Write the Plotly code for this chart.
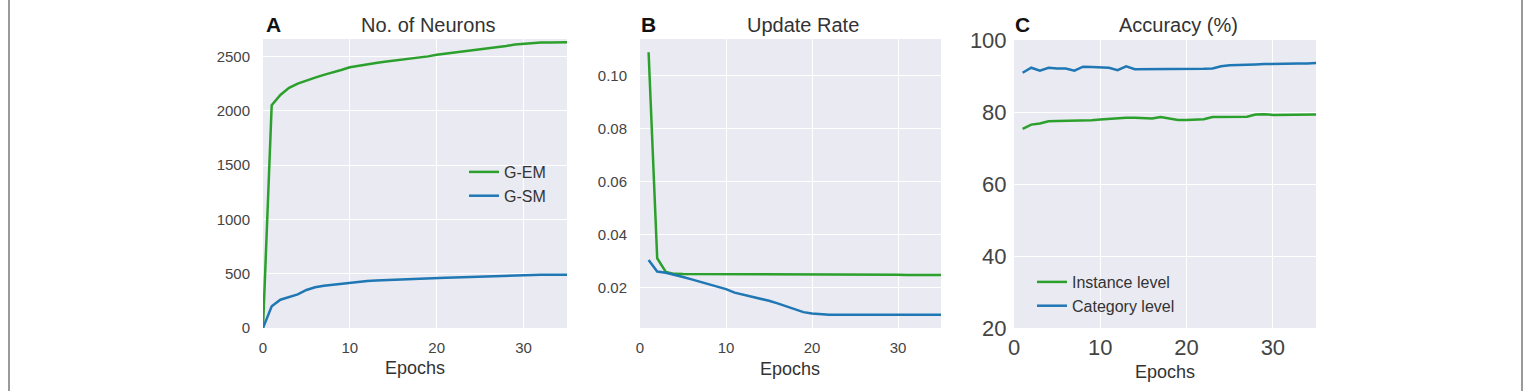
import plotly.graph_objects as go

W, H = 1529, 391

# ---------------- data ----------------
epochs_a = list(range(0, 36))
gem_neurons = [0, 2050, 2145, 2210, 2250, 2280, 2305, 2330, 2350, 2375, 2400, 2415, 2430, 2440,
               2450, 2460, 2470, 2480, 2485, 2500, 2515, 2525, 2535, 2545, 2555, 2560, 2570,
               2585, 2595, 2610, 2615, 2625, 2628, 2628, 2630, 2630]
gsm_neurons = [0, 200, 260, 285, 310, 350, 375, 388, 398, 408, 418, 425, 432, 437, 441, 444, 447,
               450, 453, 456, 459, 462, 465, 468, 471, 474, 477, 480, 484, 487, 490, 490, 490,
               490, 490, 490]

epochs_bc = list(range(1, 36))
gem_rate = [0.109, 0.031, 0.0258, 0.0251, 0.0250, 0.0250, 0.0249, 0.0249, 0.0249, 0.0248,
            0.0248, 0.0248, 0.0248, 0.0248, 0.0248, 0.0248, 0.0248, 0.0248, 0.0248, 0.0248,
            0.0248, 0.0248, 0.0248, 0.0248, 0.0248, 0.0248, 0.0248, 0.0248, 0.0248, 0.0248,
            0.0247, 0.0247, 0.0247, 0.0247, 0.0247]
gsm_rate = [0.0303, 0.0260, 0.0255, 0.0248, 0.0239, 0.0230, 0.0221, 0.0212, 0.0203, 0.0193,
            0.0180, 0.0172, 0.0165, 0.0158, 0.0149, 0.0139, 0.0128, 0.0117, 0.0106, 0.0101,
            0.0098, 0.0096, 0.0096, 0.0096, 0.0096, 0.0096, 0.0096, 0.0096, 0.0096, 0.0096,
            0.0096, 0.0096, 0.0096, 0.0096, 0.0096]

instance_acc = [75.3, 76.5, 76.8, 77.4, 77.5, 77.5, 77.5, 77.7, 77.7, 77.9, 78.1, 78.3, 78.4,
                78.4, 78.3, 78.2, 78.6, 78.2, 77.8, 77.8, 77.9, 78.0, 78.6, 78.6, 78.5, 78.6,
                78.7, 79.3, 79.4, 79.2, 79.2, 79.2, 79.2, 79.2, 79.3]
category_acc = [90.9, 92.3, 91.5, 92.3, 92.1, 92.1, 91.5, 92.6, 92.5, 92.5, 92.3, 91.6, 92.7,
                91.9, 91.9, 92.0, 92.0, 92.0, 91.9, 91.8, 91.9, 92.0, 92.1, 92.7, 93.0, 93.0,
                93.0, 93.2, 93.3, 93.4, 93.4, 93.4, 93.5, 93.5, 93.6]

panel_letters = ["A", "B", "C"]
panel_titles = ["No. of Neurons", "Update Rate", "Accuracy (%)"]
x_title = "Epochs"

GREEN = "#2ca02c"
BLUE = "#1f77b4"
FONT = "Liberation Sans, Arial, Helvetica, sans-serif"
BG = "#EAEAF2"
TICKC = "#444444"
LW = 2.5


def px(x):
    return x / W


def py(y):
    return 1 - y / H


fig = go.Figure()

# Panel A
fig.add_trace(go.Scatter(x=epochs_a, y=gem_neurons, mode="lines", name="G-EM",
                         line=dict(color=GREEN, width=LW), xaxis="x", yaxis="y", legend="legend"))
fig.add_trace(go.Scatter(x=epochs_a, y=gsm_neurons, mode="lines", name="G-SM",
                         line=dict(color=BLUE, width=LW), xaxis="x", yaxis="y", legend="legend"))
# Panel B
fig.add_trace(go.Scatter(x=epochs_bc, y=gem_rate, mode="lines", name="G-EM", showlegend=False,
                         line=dict(color=GREEN, width=LW), xaxis="x2", yaxis="y2"))
fig.add_trace(go.Scatter(x=epochs_bc, y=gsm_rate, mode="lines", name="G-SM", showlegend=False,
                         line=dict(color=BLUE, width=LW), xaxis="x2", yaxis="y2"))
# Panel C
fig.add_trace(go.Scatter(x=epochs_bc, y=instance_acc, mode="lines", name="Instance level",
                         line=dict(color=GREEN, width=LW), xaxis="x3", yaxis="y3", legend="legend2"))
fig.add_trace(go.Scatter(x=epochs_bc, y=category_acc, mode="lines", name="Category level",
                         line=dict(color=BLUE, width=LW), xaxis="x3", yaxis="y3", legend="legend2"))

domains_x = [(263, 567), (640, 941), (1014, 1316)]
dom_y = [py(328), py(39)]
dom_y_c = [py(328), py(40)]

grid = dict(showgrid=True, gridcolor="white", gridwidth=1.3, zeroline=False,
            showline=False, ticks="outside", tickcolor="rgba(0,0,0,0)", automargin=False)
common_x = dict(tickvals=[0, 10, 20, 30], range=[0, 35], **grid)

small = dict(family=FONT, size=15, color=TICKC)
large = dict(family=FONT, size=22, color=TICKC)

fig.update_layout(
    width=W, height=H,
    margin=dict(l=0, r=0, t=0, b=0, autoexpand=False),
    paper_bgcolor="white", plot_bgcolor=BG,
    font=dict(family=FONT),
    xaxis=dict(domain=[px(domains_x[0][0]), px(domains_x[0][1])], anchor="y",
               tickfont=small, ticklen=6, **common_x),
    yaxis=dict(domain=dom_y, anchor="x", range=[0, 2660], ticklen=9,
               tickvals=[0, 500, 1000, 1500, 2000, 2500], tickfont=small, **grid),
    xaxis2=dict(domain=[px(domains_x[1][0]), px(domains_x[1][1])], anchor="y2",
                tickfont=small, ticklen=6, **common_x),
    yaxis2=dict(domain=dom_y, anchor="x2", range=[0.0046, 0.114], ticklen=9,
                tickvals=[0.02, 0.04, 0.06, 0.08, 0.10], tickformat=".2f",
                tickfont=small, **grid),
    xaxis3=dict(domain=[px(domains_x[2][0]), px(domains_x[2][1])], anchor="y3",
                tickfont=large, ticklen=0, **common_x),
    yaxis3=dict(domain=dom_y_c, anchor="x3", range=[20, 100], ticklen=2,
                tickvals=[20, 40, 60, 80, 100], tickfont=large, **grid),
    legend=dict(x=px(464), y=py(155), xanchor="left", yanchor="top",
                bgcolor="rgba(0,0,0,0)", font=dict(family=FONT, size=16, color="#333333"),
                itemwidth=30, tracegroupgap=0),
    legend2=dict(x=px(1032), y=py(265), xanchor="left", yanchor="top",
                 bgcolor="rgba(0,0,0,0)", font=dict(family=FONT, size=16, color="#333333"),
                 itemwidth=30, tracegroupgap=0),
    showlegend=True,
)

annotations = []
letter_pos = [(273, 25), (648, 25), (1023, 25)]
title_pos = [(428, 25), (803, 25), (1178, 25)]
xtitle_pos = [(415, 368), (790, 369), (1165, 372)]
for i in range(3):
    annotations.append(dict(text="<b>" + panel_letters[i] + "</b>", x=px(letter_pos[i][0]),
                            y=py(letter_pos[i][1]), xref="paper", yref="paper",
                            showarrow=False, xanchor="center", yanchor="middle",
                            font=dict(family=FONT, size=21, color="#111111")))
    annotations.append(dict(text=panel_titles[i], x=px(title_pos[i][0]),
                            y=py(title_pos[i][1]), xref="paper", yref="paper",
                            showarrow=False, xanchor="center", yanchor="middle",
                            font=dict(family=FONT, size=20, color="#333333")))
    annotations.append(dict(text=x_title, x=px(xtitle_pos[i][0]),
                            y=py(xtitle_pos[i][1]), xref="paper", yref="paper",
                            showarrow=False, xanchor="center", yanchor="middle",
                            font=dict(family=FONT, size=18, color="#333333")))
fig.update_layout(annotations=annotations)

# outer frame side borders
fig.add_shape(type="line", xref="paper", yref="paper", x0=px(9), x1=px(9), y0=0, y1=1,
              line=dict(color="#9a9a9a", width=2))
fig.add_shape(type="line", xref="paper", yref="paper", x0=px(1522), x1=px(1522), y0=0, y1=1,
              line=dict(color="#9a9a9a", width=2))

fig.write_html("out.html")
